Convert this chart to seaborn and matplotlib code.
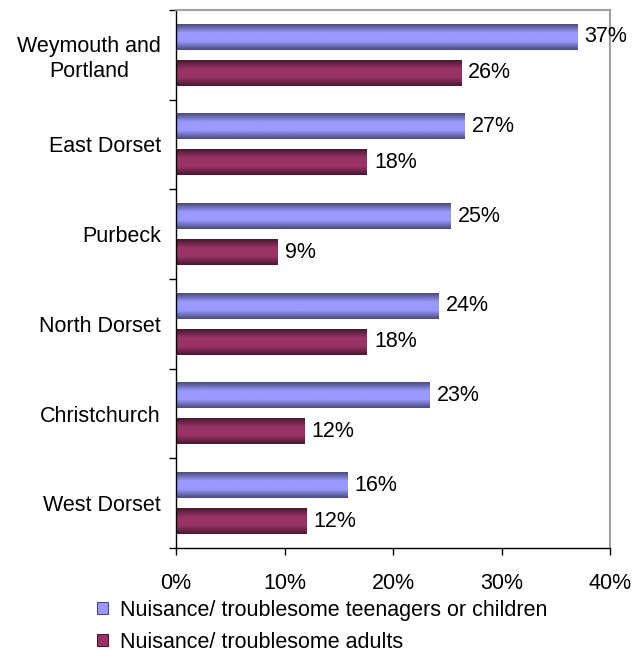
import numpy as np
import pandas as pd
import matplotlib
matplotlib.use("Agg")
import matplotlib.pyplot as plt
from matplotlib.colors import LinearSegmentedColormap
from matplotlib.patches import Patch
import seaborn as sns

districts = ["Weymouth and\nPortland", "East Dorset", "Purbeck", "North Dorset",
             "Christchurch", "West Dorset"]
teen_pct = [37.0, 26.6, 25.3, 24.2, 23.4, 15.8]
adult_pct = [26.3, 17.6, 9.4, 17.6, 11.8, 12.0]
series = ["Nuisance/ troublesome teenagers or children", "Nuisance/ troublesome adults"]
x_ticks = [0, 10, 20, 30, 40]

mid_colors = ["#9999FF", "#993366"]
edge_colors = ["#4A4A7C", "#4A1830"]
FS = 15.5

df = pd.DataFrame({
    "district": districts * 2,
    "pct": teen_pct + adult_pct,
    "series": [series[0]] * len(districts) + [series[1]] * len(districts),
})

sns.set_style("white")
plt.rcParams["font.family"] = ["Liberation Sans", "DejaVu Sans"]
plt.rcParams["text.color"] = "black"
plt.rcParams["xtick.color"] = "black"
plt.rcParams["ytick.color"] = "black"

fig = plt.figure(figsize=(6.41, 6.52), dpi=100)
ax = fig.add_axes([176 / 641, 1 - 548 / 652, 434 / 641, 538 / 652])

sns.barplot(data=df, y="district", x="pct", hue="series", order=districts,
            hue_order=series, palette=mid_colors, orient="h",
            width=0.8, gap=0.28, legend=False, ax=ax)

ax.set_xlim(0, 40)
ax.set_ylim(len(districts) - 0.5, -0.5)

# shaded fill for each bar: dark edges, light centre band
for container, mc, ec in zip(ax.containers, mid_colors, edge_colors):
    cmap = LinearSegmentedColormap.from_list("band", [ec, mc, mc, ec], N=256)
    grad = np.linspace(0, 1, 64).reshape(-1, 1)
    for bar in container:
        x0, y0 = bar.get_x(), bar.get_y()
        w, h = bar.get_width(), bar.get_height()
        bar.set_facecolor("none")
        bar.set_edgecolor("none")
        ax.imshow(grad, cmap=cmap, aspect="auto", interpolation="bilinear",
                  extent=(x0, x0 + w, y0 + h, y0), zorder=2)
    ax.bar_label(container, labels=[f"{v:.0f}%" for v in container.datavalues],
                 padding=5, fontsize=FS, color="black")

ax.set_xlim(0, 40)
ax.set_ylim(len(districts) - 0.5, -0.5)

ax.set_xticks(x_ticks)
ax.set_xticklabels([f"{t}%" for t in x_ticks], fontsize=FS)
ax.set_yticks(range(len(districts)))
ax.set_yticklabels(districts, fontsize=FS, ha="right", multialignment="center")
ax.set_yticks(np.arange(-0.5, len(districts)), minor=True)
ax.tick_params(axis="y", which="major", length=0, pad=11)
ax.tick_params(axis="y", which="minor", length=5, width=1, color="black", direction="out", left=True)
ax.tick_params(axis="x", length=5, width=1, color="black", direction="out", bottom=True, pad=13)
ax.set_xlabel("")
ax.set_ylabel("")

for side in ["left", "bottom"]:
    ax.spines[side].set_color("black")
    ax.spines[side].set_linewidth(1)
for side in ["top", "right"]:
    ax.spines[side].set_color("#A0A0A0")
    ax.spines[side].set_linewidth(1.5)

handles = [Patch(facecolor=mc, edgecolor=ec, linewidth=0.8) for mc, ec in zip(mid_colors, edge_colors)]
fig.legend(handles, series, loc="upper left", bbox_to_anchor=(86 / 641, 1 - 589 / 652),
           frameon=False, fontsize=FS, handlelength=0.5, handleheight=0.5,
           handletextpad=0.6, labelspacing=0.5, borderpad=0)

fig.savefig("out.png", dpi=100, facecolor="white")
